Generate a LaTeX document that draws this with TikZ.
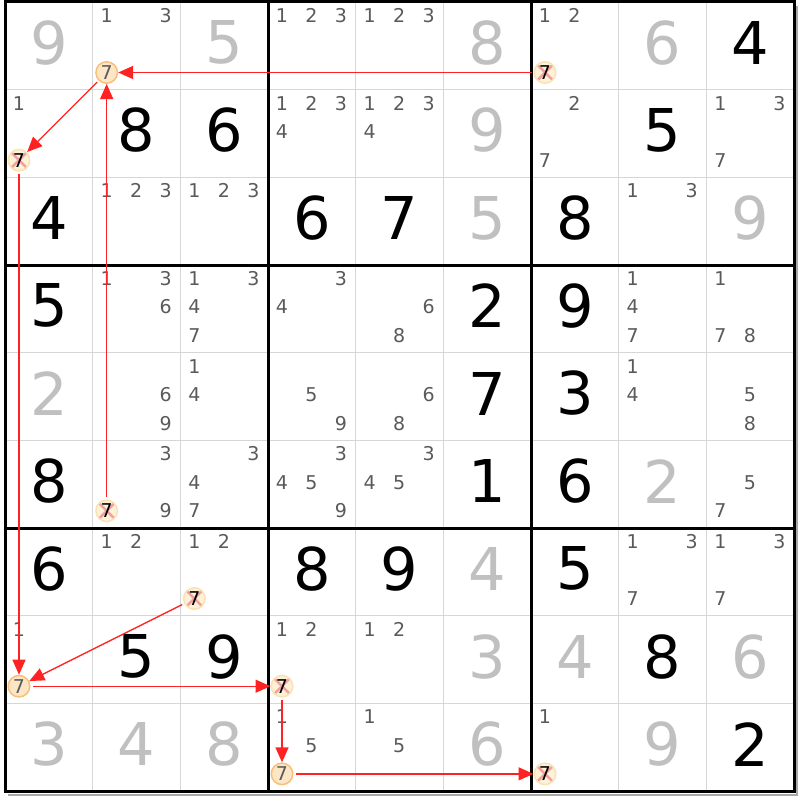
\documentclass[tikz,border=0pt]{standalone}
\usepackage{fontspec}
\setmainfont{DejaVu Sans}
\usetikzlibrary{arrows.meta}
\definecolor{candcol}{HTML}{5A5A5A}
\definecolor{solvedcol}{HTML}{C0C0C0}
\definecolor{thincol}{HTML}{D6D6D6}
\definecolor{shadowcol}{HTML}{A8A8A8}
\definecolor{arrowcol}{HTML}{FF2222}
\definecolor{onfill}{HTML}{FDE6C6}
\definecolor{ondraw}{HTML}{F6C07C}
\definecolor{offfill}{HTML}{FDF1D8}
\definecolor{offdraw}{HTML}{FBE2B4}
\definecolor{xcol}{HTML}{F2A0A0}
\newcommand\mycands[3]{%
  \foreach \d in {#3}{%
    \pgfmathtruncatemacro\kx{mod(\d-1,3)}%
    \pgfmathtruncatemacro\ky{div(\d-1,3)}%
    \node[cand] (k-#1-#2-\d) at ({5+(#2-1)*87.67+14+\kx*29.5},{2+(#1-1)*87.67+13.5+\ky*28.5}) {\d};
  }}
\newcommand\mybig[4]{%
  \node[#4] (b-#1-#2) at ({5+(#2-0.5)*87.67},{2+(#1-0.5)*87.67-3}) {#3};}
\newcommand\myseven[3]{%
  \node[#3] (h-#1-#2) at ({5+(#2-1)*87.67+14},{2+(#1-1)*87.67+13.5+57}) {7};}
\begin{document}
\begin{tikzpicture}[x=1pt,y=-1pt,
  cand/.style={inner sep=0pt, text=candcol, font=\fontsize{19}{19}\selectfont},
  given/.style={inner sep=0pt, text=black, font=\fontsize{59}{59}\selectfont},
  solved/.style={inner sep=0pt, text=solvedcol, font=\fontsize{59}{59}\selectfont},
  onseven/.style={circle, inner sep=0pt, minimum size=21.5pt, fill=onfill, draw=ondraw,
    line width=1.5pt, text=candcol, font=\fontsize{19}{19}\selectfont},
  offseven/.style={circle, inner sep=0pt, minimum size=21.5pt, fill=offfill, draw=offdraw,
    line width=1.5pt, text=black, font=\fontsize{19}{19}\selectfont,
    path picture={\draw[xcol, line width=2.5pt]
      ([shift={(-7pt,-7pt)}]path picture bounding box.center) -- ([shift={(7pt,7pt)}]path picture bounding box.center)
      ([shift={(-7pt,7pt)}]path picture bounding box.center) -- ([shift={(7pt,-7pt)}]path picture bounding box.center);}},
  arr/.style={draw=arrowcol, line width=1.3pt, -{Triangle[length=15pt,width=13pt]}, shorten <=2pt},
  thinline/.style={draw=thincol, line width=1.5pt},
  thickline/.style={draw=black, line width=3pt}
]
\useasboundingbox (0,0) rectangle (800,800);
\fill[white] (0,0) rectangle (800,800);
% shadow
\draw[shadowcol, line width=2pt] (797,6) -- (797,794.5) -- (8,794.5);
% thin grid
\foreach \i in {1,2,4,5,7,8}{
  \draw[thinline] ({5+\i*87.67},2) -- ({5+\i*87.67},791);
  \draw[thinline] (5,{2+\i*87.67}) -- (794,{2+\i*87.67});
}
% thick grid
\foreach \i in {0,3,6,9}{
  \draw[thickline, line cap=rect] ({5+\i*87.67},2) -- ({5+\i*87.67},791);
  \draw[thickline, line cap=rect] (5,{2+\i*87.67}) -- (794,{2+\i*87.67});
}
% given digits
\mybig{1}{9}{4}{given}
\mybig{2}{2}{8}{given}
\mybig{2}{3}{6}{given}
\mybig{2}{8}{5}{given}
\mybig{3}{1}{4}{given}
\mybig{3}{4}{6}{given}
\mybig{3}{5}{7}{given}
\mybig{3}{7}{8}{given}
\mybig{4}{1}{5}{given}
\mybig{4}{6}{2}{given}
\mybig{4}{7}{9}{given}
\mybig{5}{6}{7}{given}
\mybig{5}{7}{3}{given}
\mybig{6}{1}{8}{given}
\mybig{6}{6}{1}{given}
\mybig{6}{7}{6}{given}
\mybig{7}{1}{6}{given}
\mybig{7}{4}{8}{given}
\mybig{7}{5}{9}{given}
\mybig{7}{7}{5}{given}
\mybig{8}{2}{5}{given}
\mybig{8}{3}{9}{given}
\mybig{8}{8}{8}{given}
\mybig{9}{9}{2}{given}
% solved digits
\mybig{1}{1}{9}{solved}
\mybig{1}{3}{5}{solved}
\mybig{1}{6}{8}{solved}
\mybig{1}{8}{6}{solved}
\mybig{2}{6}{9}{solved}
\mybig{3}{6}{5}{solved}
\mybig{3}{9}{9}{solved}
\mybig{5}{1}{2}{solved}
\mybig{6}{8}{2}{solved}
\mybig{7}{6}{4}{solved}
\mybig{8}{6}{3}{solved}
\mybig{8}{7}{4}{solved}
\mybig{8}{9}{6}{solved}
\mybig{9}{1}{3}{solved}
\mybig{9}{2}{4}{solved}
\mybig{9}{3}{8}{solved}
\mybig{9}{6}{6}{solved}
\mybig{9}{8}{9}{solved}
% candidates
\mycands{1}{2}{1,3}
\mycands{1}{4}{1,2,3}
\mycands{1}{5}{1,2,3}
\mycands{1}{7}{1,2}
\mycands{2}{1}{1}
\mycands{2}{4}{1,2,3,4}
\mycands{2}{5}{1,2,3,4}
\mycands{2}{7}{2,7}
\mycands{2}{9}{1,3,7}
\mycands{3}{2}{1,2,3}
\mycands{3}{3}{1,2,3}
\mycands{3}{8}{1,3}
\mycands{4}{2}{1,3,6}
\mycands{4}{3}{1,3,4,7}
\mycands{4}{4}{3,4}
\mycands{4}{5}{6,8}
\mycands{4}{8}{1,4,7}
\mycands{4}{9}{1,7,8}
\mycands{5}{2}{6,9}
\mycands{5}{3}{1,4}
\mycands{5}{4}{5,9}
\mycands{5}{5}{6,8}
\mycands{5}{8}{1,4}
\mycands{5}{9}{5,8}
\mycands{6}{2}{3,9}
\mycands{6}{3}{3,4,7}
\mycands{6}{4}{3,4,5,9}
\mycands{6}{5}{3,4,5}
\mycands{6}{9}{5,7}
\mycands{7}{2}{1,2}
\mycands{7}{3}{1,2}
\mycands{7}{8}{1,3,7}
\mycands{7}{9}{1,3,7}
\mycands{8}{1}{1}
\mycands{8}{4}{1,2}
\mycands{8}{5}{1,2}
\mycands{9}{4}{1,5}
\mycands{9}{5}{1,5}
\mycands{9}{7}{1}
% highlighted sevens
\myseven{1}{2}{onseven}
\myseven{8}{1}{onseven}
\myseven{9}{4}{onseven}
\myseven{1}{7}{offseven}
\myseven{2}{1}{offseven}
\myseven{6}{2}{offseven}
\myseven{7}{3}{offseven}
\myseven{8}{4}{offseven}
\myseven{9}{7}{offseven}
% chain arrows
\draw[arr] (h-1-7) -- (h-1-2);
\draw[arr] (h-1-2) -- (h-2-1);
\draw[arr] (h-6-2) -- (h-1-2);
\draw[arr] (h-2-1) -- (h-8-1);
\draw[arr] (h-7-3) -- (h-8-1);
\draw[arr] (h-8-1) -- (h-8-4);
\draw[arr] (h-8-4) -- (h-9-4);
\draw[arr] (h-9-4) -- (h-9-7);
\end{tikzpicture}
\end{document}
